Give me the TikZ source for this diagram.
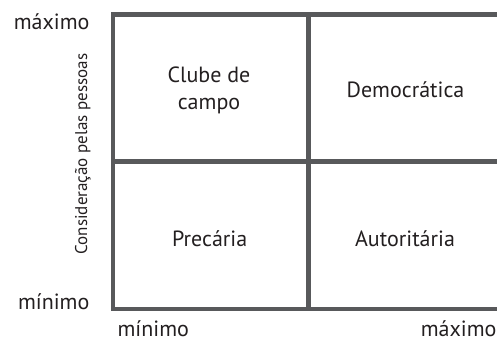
\documentclass[tikz,border=0pt]{standalone}
\usepackage{fontspec}
\setmainfont{PT Sans}
\definecolor{gridgray}{HTML}{58595B}
\definecolor{txt}{HTML}{231F20}
\begin{document}
\begin{tikzpicture}[x=1pt,y=-1pt,
  lab/.style={font=\fontsize{22}{27}\selectfont, text=txt, inner sep=0pt},
  axlab/.style={font=\fontsize{17}{20}\selectfont, text=txt, inner sep=0pt},
  gridline/.style={draw=gridgray, line width=4.2pt}]
\useasboundingbox (0,0) rectangle (497,342);
\coordinate (tl) at (113.3,14.5);
\coordinate (tr) at (500,14.5);
\coordinate (bl) at (113.3,309);
\coordinate (br) at (500,309);
\coordinate (mt) at (308.5,14.5);
\coordinate (mb) at (308.5,309);
\coordinate (ml) at (113.3,161.5);
\coordinate (mr) at (500,161.5);
\draw[gridline] (tr) -- (tl) -- (bl) -- (br);
\draw[gridline] (mt) -- (mb);
\draw[gridline] (ml) -- (mr);
\node[lab, anchor=base] (ymax) at (51.7,30) {máximo};
\node[lab, anchor=base] (ymin) at (53.7,309.3) {mínimo};
\node[lab, anchor=base, text depth=0pt] (xmin) at (153.3,336.5) {mínimo};
\node[lab, anchor=base, text depth=0pt] (xmax) at (458.7,336.5) {máximo};
\node[lab, align=center] (clube) at (209,90.5) {Clube de\\campo};
\node[lab, anchor=base] (dem) at (405.5,98) {Democrática};
\node[lab, anchor=base] (prec) at (209.7,246) {Precária};
\node[lab, anchor=base] (aut) at (405,246) {Autoritária};
\node[axlab, rotate=90, anchor=base] (ylab) at (87,154) {Consideração pelas pessoas};
\end{tikzpicture}
\end{document}
